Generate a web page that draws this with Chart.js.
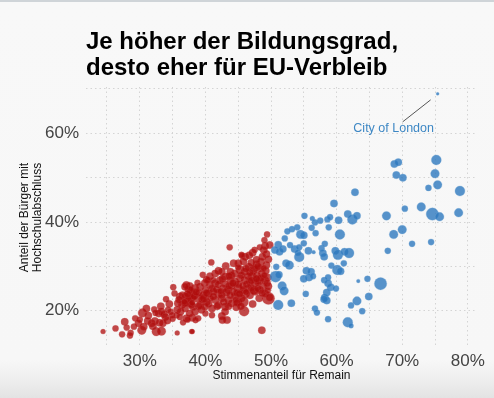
<!DOCTYPE html>
<html>
<head>
<meta charset="utf-8">
<script src="https://cdn.jsdelivr.net/npm/chart.js@4/dist/chart.umd.min.js"></script>
<style>
  html, body { margin: 0; padding: 0; }
  body {
    width: 494px; height: 398px; overflow: hidden; position: relative;
    background: linear-gradient(to bottom, #f8f8f8 0px, #f7f7f7 360px, #eeeeee 380px, #e3e3e3 398px);
  }
  #topline { position: absolute; left: 0; top: 0; width: 494px; height: 2px; background: #cfd4d8; }
  #c { position: absolute; left: 0; top: 0; }
</style>
</head>
<body>
<div id="topline"></div>
<canvas id="c" width="494" height="398"></canvas>
<script>
// Überschrift und Achsen
var titleLines = ["Je höher der Bildungsgrad,", "desto eher für EU-Verbleib"];
var xTitle = "Stimmenanteil für Remain";
var yTitle = ["Anteil der Bürger mit", "Hochschulabschluss"];
var xTicks = [25, 30, 35, 40, 45, 50, 55, 60, 65, 70, 75, 80];
var yTicks = [20, 30, 40, 50, 60, 70];
var xLabelTicks = [30, 40, 50, 60, 70, 80];
var yLabelTicks = [20, 40, 60];

// Remain-Mehrheit (blau): Stimmenanteil Remain, Anteil Hochschulabschluss, relative Größe
var remainX = [59.6, 55.1, 56.3, 56.7, 57.5, 58.6, 59.0, 58.8, 60.3, 61.7, 62.4, 63.1, 56.2, 56.8, 54.5, 55.0,
  54.0, 53.2, 52.5, 52.1, 51.1, 50.6, 51.3, 51.8, 52.9, 53.6, 54.3, 54.1, 55.0, 55.7, 54.3, 56.5,
  57.7, 58.2, 57.9, 58.1, 59.8, 60.2, 61.2, 61.9, 60.5, 52.3, 52.8, 50.8, 50.7, 51.2, 55.4, 56.1,
  55.8, 55.0, 56.4, 58.1, 58.7, 59.2, 60.1, 60.6, 61.1, 51.7, 52.0, 58.7, 59.1, 59.9, 58.5, 58.2,
  58.5, 58.1, 55.3, 62.2, 53.1, 51.1, 56.7, 57.0, 58.7, 61.7, 62.2, 75.4, 75.2, 75.0, 75.4, 74.0,
  78.8, 68.8, 69.4, 69.1, 70.1, 62.8, 70.4, 72.9, 74.6, 75.7, 78.6, 67.6, 68.7, 70.0, 71.5, 74.4,
  67.8, 63.3, 64.7, 66.7, 63.1, 64.9, 63.9];
var remainY = [44.2, 41.4, 40.8, 39.9, 40.3, 40.6, 41.1, 38.8, 40.4, 41.8, 40.6, 41.4, 38.7, 37.5, 37.2, 37.0,
  38.8, 38.4, 37.9, 36.3, 34.9, 33.7, 33.3, 33.9, 34.8, 33.9, 34.3, 33.1, 35.2, 33.5, 32.1, 33.2,
  34.1, 35.1, 33.0, 32.2, 33.5, 32.6, 33.3, 33.0, 37.2, 30.7, 30.3, 29.9, 27.7, 28.1, 29.0, 28.8,
  27.5, 27.2, 27.8, 26.9, 27.5, 30.2, 29.2, 28.9, 30.7, 25.6, 24.5, 26.2, 25.3, 25.0, 24.1, 23.0,
  22.3, 22.6, 23.8, 21.2, 21.7, 21.3, 20.5, 19.6, 18.1, 17.4, 16.6, 68.9, 54.0, 50.9, 48.4, 47.7,
  47.0, 53.1, 53.5, 50.6, 50.0, 46.7, 43.0, 43.4, 41.8, 41.2, 42.1, 41.4, 37.2, 38.3, 35.1, 35.5,
  33.5, 26.7, 27.2, 26.1, 22.2, 23.2, 19.9];
var remainSize = [3, 2.5, 2, 2.5, 2.5, 2.5, 2.5, 2.5, 3, 3, 4, 3, 2.5, 2.5, 3.5, 3,
  2.5, 2.5, 2.5, 2.5, 3, 3, 3, 3, 2.5, 3, 2.5, 2.5, 2.5, 3, 4, 1.5,
  2.5, 2.5, 3, 3, 3, 4, 3, 4, 4, 3, 3.5, 2.5, 4.5, 3, 3, 3,
  3, 3, 2.5, 2.5, 2.5, 2.5, 4, 3, 2.5, 3.5, 3.5, 3, 3, 2.5, 3, 3,
  3, 3, 2.5, 2.5, 3, 4, 2.5, 2.5, 2.5, 4, 2, 1.2, 4, 3.5, 3.5, 2.5,
  4, 3, 3, 3, 3, 3, 2.5, 3.5, 5, 3.5, 3.5, 3.5, 3.5, 3.5, 2.5, 2.5,
  2.5, 1.5, 2.5, 5, 3.5, 3, 2.5];

// Leave-Mehrheit (rot)
var leaveX = [24.4, 26.3, 27.3, 27.7, 28.5, 28.6, 29.3, 29.1, 30.4, 30.3, 30.6, 31.3, 31.2, 32.2, 31.8, 32.3,
  32.5, 33.3, 33.0, 33.5, 32.9, 33.3, 33.7, 33.9, 32.4, 34.3, 34.7, 34.9, 35.1, 35.3, 35.7, 36.1,
  36.5, 36.9, 37.5, 37.9, 38.3, 35.8, 36.4, 35.7, 36.2, 36.9, 35.6, 36.1, 37.1, 37.6, 37.4, 37.9,
  37.0, 37.6, 38.1, 37.1, 38.0, 37.6, 37.9,
  49.4, 43.7, 49.1, 48.9, 49.3, 48.7, 49.6, 48.5, 49.3, 47.2, 46.7, 46.1, 45.6, 40.9, 44.3, 45.0,
  45.8, 43.1, 42.0, 42.5, 41.5, 40.7,
  47.8, 48.3, 47.3, 46.6, 46.0, 45.3, 44.5, 43.8, 47.1, 47.8, 48.6, 49.1, 48.3, 47.6, 46.8, 46.0,
  45.3, 44.5, 43.8, 43.0, 42.2, 41.5, 40.7, 39.9, 39.2, 38.4, 37.7, 36.9, 46.6, 45.8, 45.0, 44.3,
  43.5, 42.7, 42.0, 41.2, 40.5, 39.7, 38.9, 38.2, 37.4, 36.9, 37.9, 39.2, 40.2, 41.5, 42.5, 43.5,
  44.5, 45.5, 46.0, 47.6, 48.3, 48.8, 49.1, 38.4, 39.4, 39.9, 41.0, 42.0, 43.0, 44.0, 45.0, 45.8,
  49.6, 49.8, 45.9, 42.5, 43.3, 42.6, 38.9, 38.5, 48.6, 38.0, 37.3, 49.8, 49.0, 45.5, 47.5, 48.3,
  39.6, 40.4,
  41.0, 42.0, 43.0, 44.0, 45.0, 46.5, 47.5, 48.0, 44.0, 45.5, 46.8, 42.5, 43.8, 44.8, 47.0, 48.0,
  49.5, 49.6, 49.2, 40.0, 39.0, 41.8, 40.5, 43.5, 44.7, 46.8, 48.2, 47.2, 38.8, 39.5,
  36.0, 36.8, 37.3, 38.6, 38.0, 39.0, 39.8, 40.2, 40.8, 41.2, 41.7, 42.3, 42.8, 43.2, 43.6, 44.2,
  44.6, 45.2, 45.7, 46.2, 46.3, 47.0, 47.4, 48.0, 48.5, 49.0, 49.4, 48.7, 49.5, 47.8, 46.2, 45.0,
  43.6, 42.6, 41.2, 40.2, 47.8, 48.9, 47.0, 44.8, 45.4, 43.0, 41.0, 40.0, 34.5, 34.0, 33.2, 31.0,
  30.0, 29.8, 28.0, 32.0, 34.2, 35.0, 36.6];
var leaveY = [15.3, 16.0, 14.7, 17.5, 14.4, 15.0, 18.3, 16.4, 19.5, 15.6, 16.4, 18.9, 17.7, 20.3, 17.2, 17.7,
  15.3, 15.4, 17.3, 17.2, 19.4, 19.8, 19.2, 18.6, 19.5, 20.2, 19.8, 19.0, 25.3, 23.9, 15.0, 23.2,
  23.5, 23.2, 23.4, 22.8, 23.4, 21.7, 21.3, 20.2, 19.8, 20.5, 19.0, 18.6, 25.8, 25.6, 24.9, 24.3,
  21.9, 21.7, 20.9, 18.3, 18.4, 19.4, 15.3,
  37.2, 34.3, 34.6, 33.7, 32.8, 32.2, 31.6, 31.1, 30.3, 33.1, 32.5, 32.2, 32.4, 30.9, 30.7, 30.7,
  31.1, 30.1, 29.0, 28.8, 28.4, 27.8,
  30.5, 29.6, 29.2, 29.9, 28.8, 29.2, 28.4, 28.8, 27.7, 28.0, 28.4, 26.9, 26.9, 26.2, 26.5, 26.9,
  27.3, 26.5, 26.9, 27.7, 26.9, 26.2, 25.8, 26.2, 25.4, 25.0, 24.7, 25.4, 25.0, 24.7, 25.0, 24.3,
  24.7, 25.0, 23.9, 24.3, 23.9, 23.5, 22.8, 23.2, 22.4, 21.7, 21.3, 21.3, 22.0, 22.4, 22.8, 22.4,
  23.2, 22.8, 23.9, 24.3, 24.7, 25.4, 23.9, 19.8, 20.2, 20.9, 20.5, 21.3, 20.9, 21.7, 22.0, 22.0,
  22.8, 23.0, 19.9, 18.8, 17.9, 17.9, 18.3, 17.9, 15.6, 15.3, 18.0, 34.8, 35.9, 32.6, 33.7, 34.3,
  28.1, 26.9,
  25.0, 26.0, 26.0, 25.6, 26.0, 27.8, 29.5, 30.0, 28.0, 28.0, 28.6, 23.5, 23.5, 24.0, 25.2, 26.5,
  27.5, 25.5, 29.0, 24.6, 24.0, 21.0, 21.5, 21.0, 20.8, 23.5, 22.8, 21.5, 26.3, 22.5,
  22.5, 22.0, 23.8, 24.2, 21.8, 21.0, 22.8, 24.0, 22.8, 23.2, 24.8, 24.4, 22.0, 24.2, 25.6, 26.2,
  22.5, 23.8, 25.6, 24.2, 26.0, 26.8, 24.6, 25.0, 27.4, 28.0, 26.2, 24.0, 24.6, 27.2, 29.5, 29.8,
  27.8, 27.2, 26.9, 27.0, 31.5, 29.6, 30.8, 21.8, 21.0, 19.8, 19.0, 19.4, 21.5, 22.6, 21.0, 20.5,
  18.0, 17.2, 16.2, 16.5, 17.8, 18.2, 17.4];
var leaveSize = [2, 2.5, 2.5, 3, 2.5, 2.5, 2.5, 2.5, 3.5, 3.5, 3, 3, 3, 2.5, 3, 3,
  3.5, 3.5, 3, 3, 3, 3, 3, 3, 2.5, 2.5, 2.5, 2.5, 2.5, 2.5, 2, 3,
  3, 3, 3, 3, 3, 3, 3, 3, 3, 3, 2.5, 2.5, 3, 3, 3, 2.5,
  3, 3, 3, 3, 3, 3, 2,
  2.5, 2.5, 3, 3, 3, 3, 3, 3, 3, 3, 3, 3, 2.5, 2.5, 3, 3,
  3, 3, 3, 3, 3, 3,
  3, 3, 3.5, 3, 3, 3.5, 3, 3, 3.5, 3, 3, 3, 3.5, 3, 3, 3,
  3, 3.5, 3, 3, 3, 3, 3, 3, 3, 3.5, 3, 3, 3, 3, 3.5, 3,
  3, 3, 3.5, 3, 3, 3, 3.5, 3, 3, 3, 3, 3, 3, 3, 3, 3,
  3, 3, 4, 3, 3, 3, 3, 3, 3, 3, 3, 3, 3, 3, 3, 4,
  5, 3, 4, 3, 3, 3, 2.5, 2.5, 3, 2, 2.5, 3, 2.5, 2.5, 2.5, 2.5,
  2.5, 2.5,
  3, 3, 3, 3, 3, 3, 3, 3, 3, 3, 3, 3, 3, 3, 3, 3,
  3, 3, 3, 3, 3, 3, 3, 3, 3, 3, 3, 3, 2.5, 3,
  3, 2.5, 3, 3, 2.5, 3, 3.5, 3, 2.5, 3, 3, 2.5, 3, 3.5, 3, 3,
  2.5, 3, 3, 2.5, 3, 3, 3.5, 3, 3, 2.5, 3, 3, 2.5, 3, 3, 2.5,
  3, 3, 2.5, 3, 3, 2.5, 3, 3, 3, 3, 2.5, 2.5, 3, 2.5, 3, 3,
  2.5, 3, 2.5, 3, 3, 2.5, 2.5];

var annoLabel = "City of London";
var annoX = 75.4, annoY = 68.9;

// relative Größe -> Pixelradius
function toPoints(xs, ys, ss) {
  return xs.map(function (x, i) { return { x: x, y: ys[i], r: ss[i] * 1.25 }; });
}

var overlay = {
  id: "overlay",
  afterDraw: function (chart) {
    var ctx = chart.ctx, a = chart.chartArea;
    ctx.save();
    ctx.fillStyle = "#000";
    ctx.font = "bold 24px 'Liberation Sans', Arial, sans-serif";
    ctx.textBaseline = "alphabetic";
    ctx.textAlign = "left";
    titleLines.forEach(function (t, i) { ctx.fillText(t, a.left, 49 + i * 26); });

    var px = chart.scales.x.getPixelForValue(annoX);
    var py = chart.scales.y.getPixelForValue(annoY);
    ctx.strokeStyle = "#555";
    ctx.lineWidth = 1;
    ctx.beginPath();
    ctx.moveTo(px - 7, py + 6);
    ctx.lineTo(px - 35, py + 28);
    ctx.stroke();
    ctx.fillStyle = "#3d87c4";
    ctx.font = "12.5px 'Liberation Sans', Arial, sans-serif";
    ctx.textAlign = "center";
    ctx.textBaseline = "middle";
    ctx.fillText(annoLabel, px - 44, py + 34.5);
    ctx.restore();
  }
};

var tickFont = { family: "'Liberation Sans', Arial, sans-serif", size: 17 };
var titleFont = { family: "'Liberation Sans', Arial, sans-serif", size: 12, lineHeight: 1.05 };

new Chart(document.getElementById("c"), {
  type: "bubble",
  data: {
    datasets: [{
      label: "Remain",
      data: toPoints(remainX, remainY, remainSize),
      backgroundColor: "rgba(45,120,190,0.8)",
      borderColor: "rgba(120,170,215,0.6)",
      borderWidth: 0.5
    }, {
      label: "Leave",
      data: toPoints(leaveX, leaveY, leaveSize),
      backgroundColor: "rgba(175,12,12,0.75)",
      borderColor: "rgba(200,80,80,0.5)",
      borderWidth: 0.5
    }]
  },
  options: {
    responsive: false,
    animation: false,
    devicePixelRatio: 1,
    events: [],
    layout: { padding: { top: 87, right: 17, bottom: 0, left: 0 } },
    plugins: { legend: { display: false }, tooltip: { enabled: false } },
    scales: {
      x: {
        type: "linear",
        min: 21.8, max: 81.4,
        afterFit: function (s) { s.height = 50; },
        afterBuildTicks: function (s) { s.ticks = xTicks.map(function (v) { return { value: v }; }); },
        grid: { color: "#d4d4d4", drawTicks: false },
        border: { display: false, dash: [1.5, 3] },
        ticks: {
          padding: 3,
          color: "#444",
          font: tickFont,
          autoSkip: false,
          maxRotation: 0,
          callback: function (v) { return xLabelTicks.indexOf(v) >= 0 ? v + "%" : ""; }
        },
        title: { display: true, text: xTitle, color: "#111", font: { family: titleFont.family, size: 12 }, padding: { top: 0, bottom: 15 } }
      },
      y: {
        type: "linear",
        min: 11.6, max: 70.45,
        afterFit: function (s) { s.width = 86; },
        afterBuildTicks: function (s) { s.ticks = yTicks.map(function (v) { return { value: v }; }); },
        grid: { color: "#d4d4d4", drawTicks: false },
        border: { display: false, dash: [1.5, 3] },
        ticks: {
          padding: 7,
          color: "#444",
          font: tickFont,
          callback: function (v) { return yLabelTicks.indexOf(v) >= 0 ? v + "%" : ""; }
        },
        title: { display: true, text: yTitle, color: "#111", font: titleFont, padding: { top: 18.5, bottom: 0 } }
      }
    }
  },
  plugins: [overlay]
});
</script>
</body>
</html>
